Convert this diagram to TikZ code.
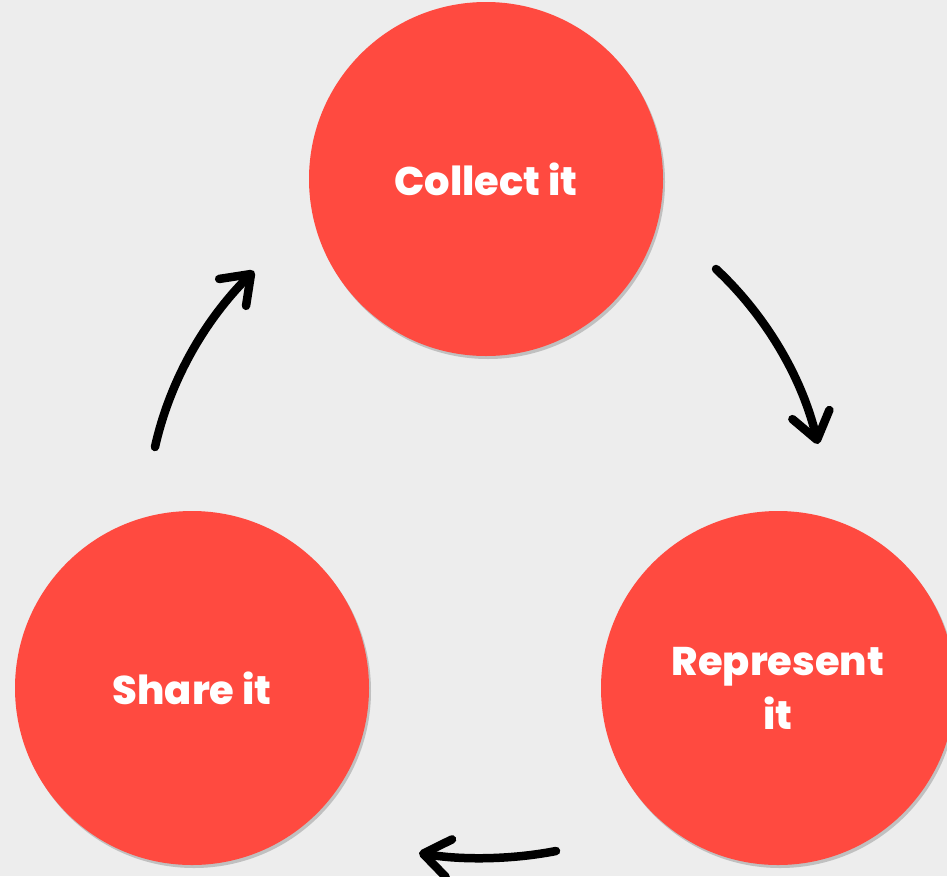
\documentclass[tikz,border=0pt]{standalone}
\usepackage{fontspec}
\setmainfont{Poppins}[BoldFont={Poppins ExtraBold}]
\usetikzlibrary{arrows.meta,shadows}
\definecolor{bg}{HTML}{EDEDED}
\definecolor{circred}{HTML}{FF4A40}
\tikzset{
  stagecircle/.style={circle, fill=circred, minimum size=354pt, inner sep=0pt,
    text=white, align=center, font=\fontsize{40}{54}\selectfont\bfseries,
    drop shadow={shadow xshift=2pt, shadow yshift=-3pt, opacity=0.28, fill=black!70}},
  cyclearrow/.style={line width=8.5pt, line cap=round, black,
    -{Straight Barb[length=26pt, width=38pt, line width=8.5pt, round]}}
}
\begin{document}
\begin{tikzpicture}[x=1pt,y=-1pt]
  \fill[bg] (0,0) rectangle (947,876);
  \useasboundingbox (0,0) rectangle (947,876);
  \begin{scope}
    \clip (0,0) rectangle (947,876);
    \node[stagecircle] (collect) at (486,179) {Collect it};
    \node[stagecircle] (represent) at (778,688) {Represent\\it};
    \node[stagecircle] (share) at (192,688) {Share it};
  \end{scope}
  \coordinate (a1s) at (716,269);
  \coordinate (a1e) at (818,444);
  \coordinate (a2s) at (556,851);
  \coordinate (a2e) at (419,853);
  \coordinate (a3s) at (155,447);
  \coordinate (a3e) at (254,271);
  \draw[cyclearrow] (a1s) .. controls (760,310) and (800,370) .. (a1e);
  \draw[cyclearrow] (a2s) .. controls (510,860) and (460,860) .. (a2e);
  \draw[cyclearrow] (a3s) .. controls (170,380) and (205,320) .. (a3e);
\end{tikzpicture}
\end{document}
